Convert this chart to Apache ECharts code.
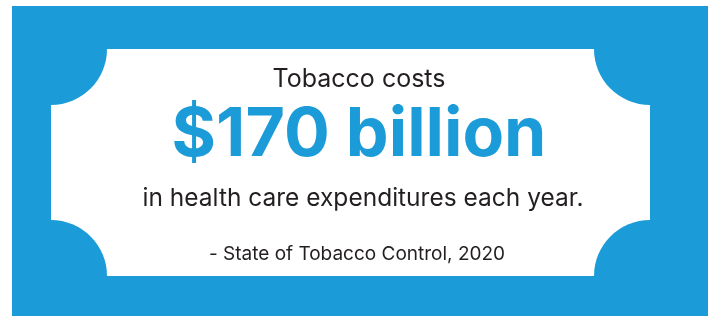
<!DOCTYPE html>
<html>
<head>
<meta charset="utf-8">
<script src="https://cdn.jsdelivr.net/npm/echarts@6/dist/echarts.min.js"></script>
<style>
  html, body { margin: 0; padding: 0; background: #fff; }
  #main { width: 711px; height: 316px; }
</style>
</head>
<body>
<div id="main"></div>
<script>
// text content of the card
var leadText = ['Tobacco costs'];
var amountText = ['$170 billion'];
var tailText = ['in health care expenditures each year.'];
var sourceText = ['- State of Tobacco Control, 2020'];

var blue = '#1b9bd7';
var ink = '#231f20';

var myChart = echarts.init(document.getElementById('main'));

// ticket: white card with quarter-circle notches cut out of each corner
var c = { x: 51, y: 49, w: 599, h: 227, r: 56 };
var x1 = c.x, y1 = c.y, x2 = c.x + c.w, y2 = c.y + c.h;
var PI = Math.PI;
var notches = [
    [x1, y1, 0, PI / 2],
    [x2, y1, PI / 2, PI],
    [x2, y2, PI, PI * 1.5],
    [x1, y2, PI * 1.5, PI * 2]
];

var graphics = [
    { type: 'rect', shape: { x: 12, y: 6, width: 696, height: 310 }, style: { fill: blue } },
    { type: 'rect', shape: { x: x1, y: y1, width: c.w, height: c.h }, style: { fill: '#fff' } }
];
notches.forEach(function (n) {
    graphics.push({
        type: 'sector',
        shape: { cx: n[0], cy: n[1], r: c.r, r0: 0, startAngle: n[2], endAngle: n[3], clockwise: true },
        style: { fill: blue }
    });
});

function line(txt, x, y, size, weight, color) {
    return {
        type: 'text', x: x, y: y,
        style: {
            text: txt, fill: color, fontSize: size, fontWeight: weight,
            fontFamily: 'Inter', align: 'center', verticalAlign: 'top'
        }
    };
}
graphics.push(line(leadText[0], 359, 67, 25, 'normal', ink));
graphics.push(line(amountText[0], 359, 102, 68, 'bold', blue));
graphics.push(line(tailText[0], 363, 186, 24.5, 'normal', ink));
graphics.push(line(sourceText[0], 357, 245, 19, 'normal', ink));

var json = {
    backgroundColor: '#fff',
    animation: false,
    graphic: graphics
};
myChart.setOption(json);
</script>
</body>
</html>
